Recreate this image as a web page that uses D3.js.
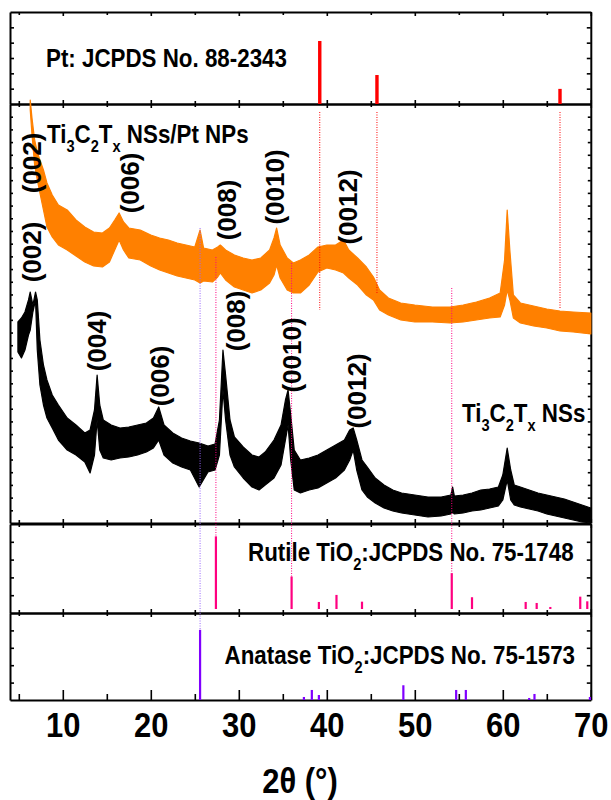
<!DOCTYPE html>
<html>
<body style="margin:0;background:#fff">

<script src="https://d3js.org/d3.v7.min.js"></script>

<script>

const width = 611;
const height = 800;

const ptTheta = [39.2, 45.7, 66.5];
const ptInt = [100, 46, 24];

const rutTheta = [27.4, 36.0, 39.1, 41.1, 44.0, 54.2, 56.5, 62.6, 63.85, 65.4, 68.8, 69.6];
const rutInt = [100, 44.7, 9.7, 19.4, 10.1, 49.4, 16.2, 9.7, 8.3, 2.8, 17, 10.6];

const anaTheta = [25.6, 37.4, 38.3, 39.1, 48.7, 54.7, 55.8, 63.0, 63.6, 69.9];
const anaInt = [100, 4.3, 14.3, 7.1, 21, 14.3, 14.3, 2.9, 8.6, 4.3];

// measured patterns, upper / lower edge of the noisy trace (a.u.)
const blackTheta = [4.9, 5.3, 5.7, 6.1, 6.3, 6.6, 6.9, 7.1, 7.4, 7.8, 8.2, 8.8, 9.5, 10.5, 11.5, 12.5, 13.1, 13.6, 13.9, 14.2,
  14.6, 15.5, 16.5, 17.5, 18.5, 19.5, 20.3, 20.9, 21.5, 22.5, 23.5, 24.5, 25.5, 26.5, 27.3, 27.8, 28.2, 28.5, 29.0, 29.5,
  30.5, 31.5, 32.3, 33.0, 34.0, 34.8, 35.3, 35.6, 35.9, 36.3, 37.0, 38.0, 39.0, 40.0, 41.0, 42.0, 42.6, 43.0, 43.4, 44.0,
  44.6, 45.5, 46.5, 47.5, 48.5, 50.0, 51.5, 53.0, 54.1, 54.3, 54.5, 55.5, 56.5, 57.5, 58.5, 59.5, 60.0, 60.5, 60.9, 61.3,
  62.0, 63.0, 64.0, 65.0, 66.0, 67.0, 68.0, 69.0, 70.0];
const blackHi = [201, 205, 211, 223, 231, 218, 231, 223, 183, 158, 143, 128, 118, 105, 98, 90, 93, 113, 148, 118,
  103, 98, 95, 96, 98, 100, 105, 116, 98, 90, 85, 82, 80, 77, 79, 103, 173, 148, 103, 86,
  76, 68, 66, 71, 83, 98, 123, 133, 108, 73, 63, 65, 68, 73, 78, 83, 93, 95, 83, 63,
  56, 45, 38, 33, 30, 28, 26, 26, 28, 36, 27, 28, 30, 33, 34, 36, 48, 75, 53, 38,
  36, 33, 30, 28, 26, 24, 21, 18, 15];
const blackLo = [171, 165, 173, 188, 193, 211, 223, 173, 138, 118, 105, 95, 83, 73, 68, 61, 50, 68, 103, 73,
  65, 63, 65, 66, 68, 71, 75, 83, 68, 60, 56, 53, 36, 51, 53, 68, 133, 103, 68, 56,
  45, 36, 33, 38, 45, 58, 83, 98, 63, 33, 30, 33, 35, 40, 45, 53, 63, 73, 53, 33,
  26, 20, 15, 12, 10, 8, 6, 7, 9, 11, 9, 10, 12, 13, 15, 17, 23, 43, 23, 18,
  16, 14, 12, 9, 7, 5, 3, 1, 0];

const orangeTheta = [6.3, 6.5, 6.8, 7.1, 7.4, 7.8, 8.2, 8.8, 9.5, 10.5, 11.5, 12.5, 13.5, 14.5, 15.3, 15.9, 16.4, 16.9, 17.5, 18.8,
  20.0, 21.0, 22.0, 23.0, 24.0, 25.0, 25.6, 26.0, 27.0, 27.6, 27.9, 28.5, 29.5, 30.5, 31.5, 32.5, 33.5, 34.0, 34.3, 34.7,
  35.5, 36.2, 37.0, 38.0, 39.0, 40.0, 41.0, 41.9, 42.5, 43.5, 44.5, 45.3, 46.0, 47.0, 48.4, 50.0, 52.0, 54.0, 55.5, 57.0,
  58.5, 59.7, 60.2, 60.5, 60.8, 61.2, 62.0, 63.5, 65.0, 66.5, 68.0, 70.0];
const orangeHi = [423, 405, 383, 371, 363, 353, 340, 328, 318, 313, 303, 296, 291, 290, 295, 303, 310, 301, 295, 293,
  288, 285, 283, 280, 278, 276, 293, 275, 273, 276, 278, 273, 268, 265, 263, 265, 273, 285, 295, 278,
  265, 260, 263, 268, 276, 278, 278, 283, 273, 265, 256, 246, 233, 225, 220, 218, 216, 216, 218, 221,
  225, 230, 263, 313, 273, 228, 220, 217, 214, 212, 211, 210];
const orangeLo = [413, 388, 358, 343, 330, 313, 296, 286, 278, 273, 267, 261, 257, 256, 261, 273, 283, 273, 265, 263,
  257, 253, 250, 247, 245, 243, 240, 242, 241, 246, 250, 243, 236, 233, 230, 233, 240, 248, 258, 245,
  233, 230, 230, 238, 251, 255, 253, 250, 245, 238, 228, 223, 213, 208, 203, 201, 201, 200, 201, 203,
  205, 206, 218, 233, 223, 205, 200, 197, 195, 192, 191, 189];

// (hkl) labels: 2theta of label centre, height of label centre (a.u.)
const hklOrange = ['(002)', '(006)', '(008)', '(0010)', '(0012)'];
const hklOrangeTheta = [6.5, 17.6, 28.7, 34.1, 42.4];
const hklOrangeLevel = [360, 340, 313, 336, 316];
const hklBlack = ['(002)', '(004)', '(006)', '(008)', '(0010)', '(0012)'];
const hklBlackTheta = [6.5, 13.9, 21.0, 29.7, 36.0, 43.4];
const hklBlackLevel = [271, 182, 147, 202, 168, 132];

// dotted guide lines
const ptGuideEnd = [213, 230, 215];
const rutGuide = [0, 1, 5];
const rutGuideStart = [266, 260, 235];
const anaGuideStart = 295;

const xTicks = [10, 20, 30, 40, 50, 60, 70];
const xMinor = [5, 15, 25, 35, 45, 55, 65];

const squeeze = 0.86;

const svg = d3.select('body')
              .append('svg')
              .attr('width', width)
              .attr('height', height)
              .style('font-family', '"Liberation Sans", Arial, sans-serif')
              .style('font-weight', 'bold');

const x = d3.scaleLinear().domain([4, 70]).range([10, 590.8]);
const yPt = d3.scaleLinear().domain([0, 146]).range([104, 12]);
const yMid = d3.scaleLinear().domain([0, 419]).range([523, 104]);
const yRut = d3.scaleLinear().domain([-5.5, 117]).range([613, 524]);
const yAna = d3.scaleLinear().domain([0, 124]).range([700, 613]);

const panels = [
  { y: yPt, n: 6 },
  { y: yMid, n: 33 },
  { y: yRut, n: 5 },
  { y: yAna, n: 5 }
];

// frames and ticks
const frame = svg.append('g');

function hAxis(gen, yPos, big, small) {
  frame.append('g')
    .attr('transform', `translate(0,${yPos})`)
    .call(gen(x).tickValues(xTicks).tickSize(-big).tickSizeOuter(0).tickFormat(''));
  frame.append('g')
    .attr('transform', `translate(0,${yPos})`)
    .call(gen(x).tickValues(xMinor).tickSize(-small).tickSizeOuter(0).tickFormat(''))
    .select('.domain').remove();
}

panels.forEach((p, i) => {
  const [b, t] = p.y.range();
  const ty = d3.scaleLinear().domain([0, p.n]).range([b, t]);
  const vals = d3.range(1, p.n);
  frame.append('g').attr('transform', 'translate(10,0)')
    .call(d3.axisLeft(ty).tickValues(vals).tickSize(i === 1 ? -3 : -4).tickSizeOuter(0).tickFormat(''));
  frame.append('g').attr('transform', 'translate(590.8,0)')
    .call(d3.axisRight(ty).tickValues(vals).tickSize(i === 1 ? -3 : -4).tickSizeOuter(0).tickFormat(''));
  hAxis(d3.axisTop, t, 4, 3);
  if (i < 3) hAxis(d3.axisBottom, b, 4, 3);
});

hAxis(d3.axisBottom, 700, 10, 6);

frame.selectAll('path').attr('stroke-width', 2).attr('stroke', '#000');
frame.selectAll('line').attr('stroke-width', 1.6).attr('stroke', '#000');

// bottom tick labels
const lab = svg.append('g')
  .attr('transform', 'translate(0,700)')
  .call(d3.axisBottom(x).tickValues(xTicks).tickSize(0).tickPadding(11).tickFormat(d3.format('d')));
lab.select('.domain').remove();
lab.selectAll('text')
  .attr('transform', `scale(${squeeze},1)`)
  .attr('font-size', 36)
  .attr('font-family', '"Liberation Sans", Arial, sans-serif')
  .attr('font-weight', 'bold')
  .attr('fill', '#000');

svg.append('text')
  .attr('transform', `translate(300,793) scale(${squeeze},1)`)
  .attr('text-anchor', 'middle')
  .attr('font-size', 36)
  .text('2θ (°)');

// measured traces
const band = (th, hi, lo) => th.map((t, i) => ({ t: t, hi: hi[i], lo: lo[i] }));
const area = d3.area()
  .x(d => x(d.t))
  .y0(d => yMid(d.lo))
  .y1(d => yMid(d.hi));

[[band(orangeTheta, orangeHi, orangeLo), '#ff8000'],
 [band(blackTheta, blackHi, blackLo), '#000']].forEach(([d, c]) => {
  svg.append('path')
    .datum(d)
    .attr('d', area)
    .attr('fill', c)
    .attr('stroke', c)
    .attr('stroke-width', 1.2)
    .attr('stroke-linejoin', 'round');
});

// dotted guides
const guides = svg.append('g')
  .attr('stroke-width', 1)
  .attr('stroke-dasharray', '1,1.5')
  .attr('fill', 'none');

ptTheta.forEach((t, i) => {
  guides.append('line')
    .attr('x1', x(t)).attr('x2', x(t))
    .attr('y1', yMid(411)).attr('y2', yMid(ptGuideEnd[i]))
    .attr('stroke', '#ff0000');
});
rutGuide.forEach((k, i) => {
  guides.append('line')
    .attr('x1', x(rutTheta[k])).attr('x2', x(rutTheta[k]))
    .attr('y1', yMid(rutGuideStart[i])).attr('y2', yRut(rutInt[k]))
    .attr('stroke', '#ff0080');
});
guides.append('line')
  .attr('x1', x(anaTheta[0])).attr('x2', x(anaTheta[0]))
  .attr('y1', yMid(anaGuideStart)).attr('y2', yAna(anaInt[0]))
  .attr('stroke', '#9966ff');

// reference sticks
function sticks(th, vals, y, color, w) {
  svg.append('g')
    .selectAll('rect')
    .data(th)
    .enter()
    .append('rect')
      .attr('x', d => x(d) - w / 2)
      .attr('width', w)
      .attr('y', (d, i) => y(vals[i]))
      .attr('height', (d, i) => y(0) - y(vals[i]))
      .attr('fill', color);
}

sticks(ptTheta, ptInt, yPt, '#ff0000', 3.4);
sticks(rutTheta, rutInt, yRut, '#ff0080', 2.2);
sticks(anaTheta, anaInt, yAna, '#8000ff', 2.2);

// text labels
function label(x0, y0, parts) {
  const t = svg.append('text')
    .attr('transform', `translate(${x0},${y0}) scale(${squeeze},1)`)
    .attr('font-size', 26)
    .style('white-space', 'pre');
  let low = false;
  parts.forEach(p => {
    const sub = Array.isArray(p);
    const s = t.append('tspan').text(sub ? p[0] : p);
    if (sub) { s.attr('font-size', 17).attr('dy', 9); low = true; }
    else if (low) { s.attr('dy', -9); low = false; }
  });
}

label(46, 67, ['Pt: JCPDS No. 88-2343']);
label(47, 143, ['Ti', ['3'], 'C', ['2'], 'T', ['x'], ' NSs/Pt NPs']);
label(462, 422, ['Ti', ['3'], 'C', ['2'], 'T', ['x'], ' NSs']);
label(248, 561, ['Rutile TiO', ['2'], ':JCPDS No. 75-1748']);
label(224.5, 664, ['Anatase TiO', ['2'], ':JCPDS No. 75-1573']);

function hkl(names, th, lev) {
  svg.append('g')
    .selectAll('text')
    .data(names)
    .enter()
    .append('text')
      .attr('transform', (d, i) => `translate(${x(th[i])},${yMid(lev[i])}) rotate(-90)`)
      .attr('text-anchor', 'middle')
      .attr('dy', '0.35em')
      .attr('font-size', 26)
      .text(d => d);
}

hkl(hklOrange, hklOrangeTheta, hklOrangeLevel);
hkl(hklBlack, hklBlackTheta, hklBlackLevel);

</script>
</body>
</html>
